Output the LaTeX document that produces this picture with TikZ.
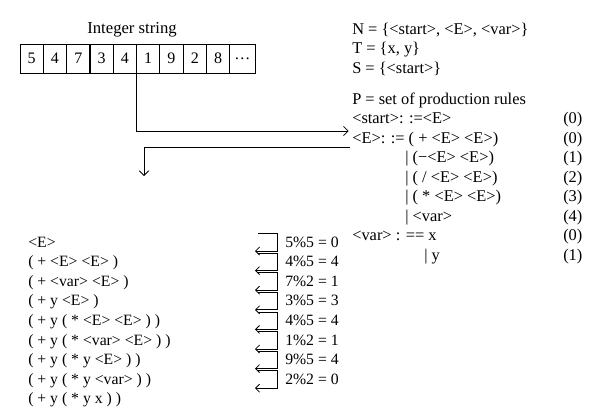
\documentclass[tikz,border=0pt]{standalone}
\usepackage{fontspec}
\setmainfont{Liberation Serif}
\usetikzlibrary{arrows.meta}
\tikzset{
txt/.style={inner sep=0pt, anchor=west, text height=8.5pt, text depth=2.5pt,
	font=\fontsize{12.3}{14}\selectfont},
deriv/.style={txt, font=\fontsize{11.8}{14}\selectfont},
cell/.style={draw, line width=0.6pt, minimum width=17.5pt, minimum
	height=21.75pt, inner sep=0pt, font=\fontsize{12}{14}\selectfont},
flow/.style={line width=0.6pt, -{Straight Barb[length=3.5pt,width=7pt]}},
loopstep/.style={line width=0.6pt, -{Straight Barb[length=3pt,width=6pt]}}
}

\begin{document}
\begin{tikzpicture}[x=0.75pt, y=-0.75pt]
	\useasboundingbox (0,0) rectangle (600,419);
	% integer string
	\node[txt, anchor=center, font=\fontsize{12.5}{14}\selectfont] (title)
		at (132,29) {Integer string};
	\foreach \d [count=\i] in {5,4,7,3,4,1,9,2,8}
		\node[cell] (cell\i) at ({20+23.3*(\i-0.5)},58.5) {\d};
	\node[cell, minimum width=18.8pt] (cell10) at (242.4,58.5) {\dots};
	% grammar
	\node[txt] (N) at (352,30) {N = \{<start>, <E>, <var>\}};
	\node[txt] (T) at (352,49.5) {T = \{x, y\}};
	\node[txt] (S) at (352,69) {S = \{<start>\}};
	\node[txt] (P) at (352,100) {P = set of production rules};
	\node[txt] (start) at (352,119.5) {<start>: :=<E>};
	\node[txt] (E) at (352,139) {<E>: := ( + <E> <E>)};
	\node[txt] (Eminus) at (405,158.5) {| (−<E> <E>)};
	\node[txt] (Ediv) at (405,178) {| ( / <E> <E>)};
	\node[txt] (Emul) at (405,197.5) {| ( * <E> <E>)};
	\node[txt] (Evar) at (405,217) {| <var>};
	\node[txt] (var) at (352,236.5) {<var> : == x};
	\node[txt] (vary) at (424,256) {| y};
	\foreach \n [count=\i] in {0,0,1,2,3,4,0,1}
		\node[txt] (num\i) at (563,{100+19.5*\i}) {(\n)};
	% derivation
	\foreach \t [count=\i from 0] in {<E>, ( + <E> <E> ), ( + <var> <E> ),
		( + y <E> ), ( + y ( * <E> <E> ) ), ( + y ( * <var> <E> ) ),
		( + y ( * y <E> ) ), ( + y ( * y <var> ) ), ( + y ( * y x ) )}
		\node[deriv] (deriv\i) at (28,{243+19.6*\i}) {\t};
	\foreach \s [count=\i] in {5\%5 = 0, 4\%5 = 4, 7\%2 = 1, 3\%5 = 3,
		4\%5 = 4, 1\%2 = 1, 9\%5 = 4, 2\%2 = 0}
	{
		\node[deriv] (step\i) at (285,{243+19.6*(\i-1)}) {\s};
		\draw[loopstep] ([xshift=-20pt,yshift=7pt]step\i.west)
			-- ([xshift=-6pt,yshift=7pt]step\i.west)
			-- ([xshift=-6pt,yshift=-6pt]step\i.west)
			-- ([xshift=-22.5pt,yshift=-6pt]step\i.west);
	}
	% connectors
	\draw[flow] (cell6.south west) |- ([xshift=-2.5pt,yshift=6pt]E.west);
	\coordinate (down) at (144,176);
	\draw[flow] ([xshift=-1.5pt,yshift=-6pt]E.west) -| (down);
\end{tikzpicture}
\end{document}
